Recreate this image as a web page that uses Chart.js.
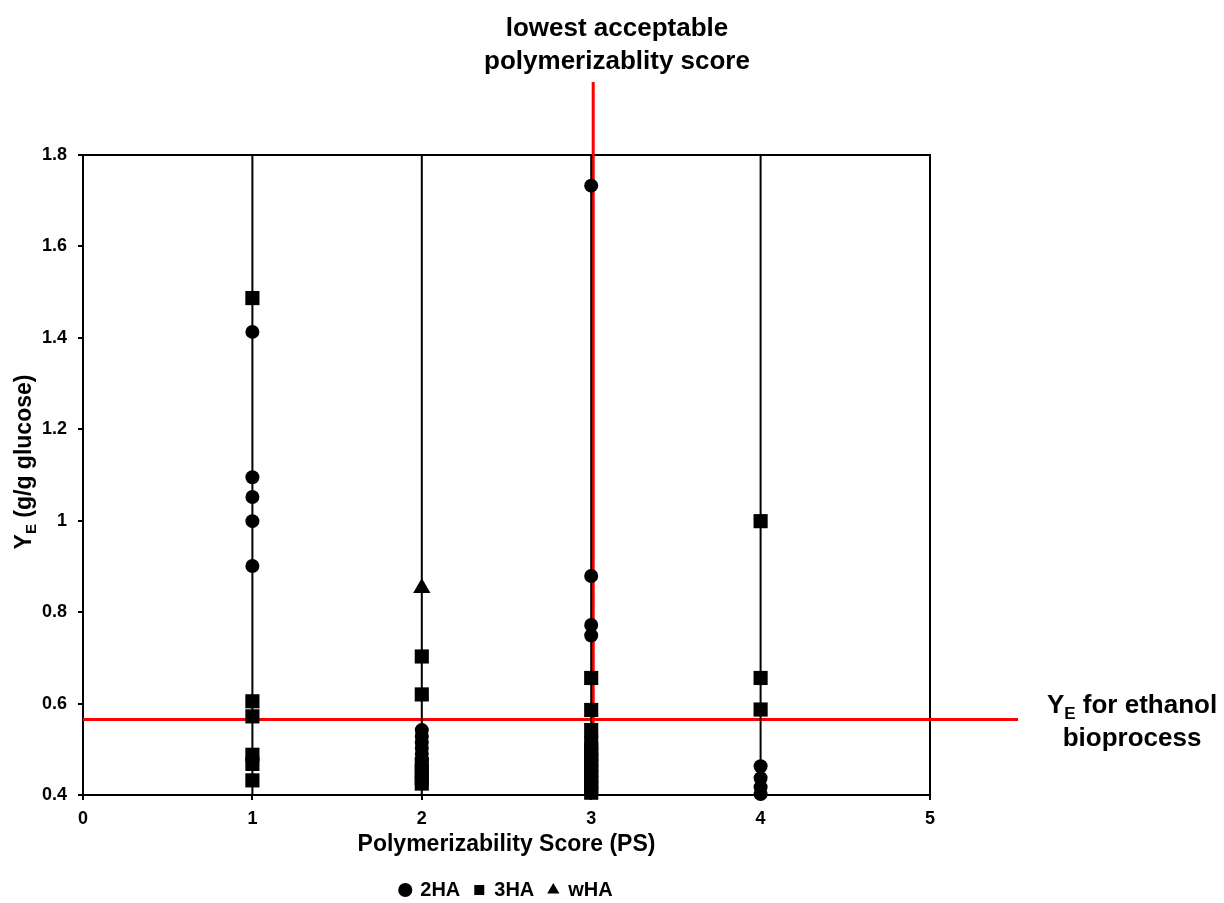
<!DOCTYPE html>
<html>
<head>
<meta charset="utf-8">
<script src="https://cdn.jsdelivr.net/npm/chart.js@4.4.1/dist/chart.umd.min.js"></script>
<style>
  html, body { margin: 0; padding: 0; background: #fff; }
  #wrap { width: 1224px; height: 903px; }
</style>
</head>
<body>
<div id="wrap"><canvas id="psChart" width="1224" height="903"></canvas></div>
<script>
// tick values
const xTicks = [0, 1, 2, 3, 4, 5];
const yTicks = [0.4, 0.6, 0.8, 1.0, 1.2, 1.4, 1.6, 1.8];

// 2HA (circles)
const ps2HA = [1, 1, 1, 1, 1, 2, 2, 2, 2, 2, 2, 3, 3, 3, 3, 4, 4, 4, 4];
const ye2HA = [1.413, 1.095, 1.052, 0.999, 0.901, 0.542, 0.528, 0.515, 0.503, 0.490, 0.477,
               1.733, 0.879, 0.772, 0.749, 0.463, 0.437, 0.417, 0.402];

// 3HA (squares)
const ps3HA = [1, 1, 1, 1, 1, 1, 2, 2, 2, 2, 2, 2, 3, 3, 3, 3, 3, 3, 3, 3, 3, 3, 3, 3, 3, 4, 4, 4];
const ye3HA = [1.487, 0.605, 0.572, 0.488, 0.468, 0.432,
               0.703, 0.620, 0.468, 0.452, 0.437, 0.425,
               0.656, 0.586, 0.542, 0.515, 0.500, 0.488, 0.476, 0.464, 0.452, 0.440, 0.428, 0.416, 0.405,
               0.999, 0.656, 0.587];

// wHA (triangles)
const psWHA = [2];
const yeWHA = [0.853];

// vertical guide lines at each score
const guideScores = [1, 2, 3, 4];

// reference values
const ethanolYE = 0.565;
const lowestPS = 3;

const FONT = "'Liberation Sans', Arial, sans-serif";
Chart.defaults.font.family = FONT;
Chart.defaults.font.weight = 'bold';
Chart.defaults.color = '#000';

function pts(xs, ys) {
  return xs.map((x, i) => ({ x: x, y: ys[i] }));
}

const yMin = yTicks[0], yMax = yTicks[yTicks.length - 1];
const guideData = [];
guideScores.forEach(s => {
  guideData.push({ x: s, y: yMin }, { x: s, y: yMax }, { x: s, y: null });
});

// red lines, box and free text
const refLines = {
  id: 'refLines',
  beforeDatasetsDraw(chart) {
    const { ctx, chartArea: a, scales: { x, y } } = chart;
    ctx.save();
    ctx.strokeStyle = '#000';
    ctx.lineWidth = 2;
    ctx.strokeRect(a.left, a.top, a.right - a.left, a.bottom - a.top);

    ctx.strokeStyle = '#ff0000';
    ctx.lineWidth = 3;
    const yy = y.getPixelForValue(ethanolYE);
    ctx.beginPath();
    ctx.moveTo(a.left, yy);
    ctx.lineTo(a.right + 88, yy);
    ctx.stroke();
    const xx = x.getPixelForValue(lowestPS) + 2;
    ctx.beginPath();
    ctx.moveTo(xx, 82);
    ctx.lineTo(xx, a.bottom);
    ctx.stroke();
    ctx.restore();
  },
  afterDraw(chart) {
    const { ctx } = chart;
    ctx.save();
    ctx.fillStyle = '#000';
    ctx.textBaseline = 'alphabetic';

    // top note
    ctx.font = 'bold 26px ' + FONT;
    ctx.textAlign = 'center';
    ctx.fillText('lowest acceptable', 617, 36);
    ctx.fillText('polymerizablity score', 617, 69);

    // right note with subscript
    ctx.textAlign = 'left';
    const big = 'bold 26px ' + FONT, small = 'bold 17px ' + FONT;
    ctx.font = big;
    const wY = ctx.measureText('Y').width;
    const wRest = ctx.measureText(' for ethanol').width;
    ctx.font = small;
    const wE = ctx.measureText('E').width;
    const sx = 1132 - (wY + wE + wRest) / 2;
    ctx.font = big;
    ctx.fillText('Y', sx, 713);
    ctx.font = small;
    ctx.fillText('E', sx + wY, 719);
    ctx.font = big;
    ctx.fillText(' for ethanol', sx + wY + wE, 713);
    ctx.textAlign = 'center';
    ctx.fillText('bioprocess', 1132, 746);

    // y axis title with subscript
    const tBig = 'bold 23px ' + FONT, tSmall = 'bold 15px ' + FONT;
    ctx.translate(31, 462);
    ctx.rotate(-Math.PI / 2);
    ctx.textAlign = 'left';
    ctx.font = tBig;
    const tY = ctx.measureText('Y').width;
    const tRest = ctx.measureText(' (g/g glucose)').width;
    ctx.font = tSmall;
    const tE = ctx.measureText('E').width;
    const tx = -(tY + tE + tRest) / 2;
    ctx.font = tBig;
    ctx.fillText('Y', tx, 0);
    ctx.font = tSmall;
    ctx.fillText('E', tx + tY, 5);
    ctx.font = tBig;
    ctx.fillText(' (g/g glucose)', tx + tY + tE, 0);
    ctx.restore();
  }
};

const ctx = document.getElementById('psChart').getContext('2d');
const psChart = new Chart(ctx, {
  type: 'scatter',
  data: {
    datasets: [
      {
        label: '2HA',
        data: pts(ps2HA, ye2HA),
        pointStyle: 'circle',
        pointRadius: 7,
        backgroundColor: '#000',
        borderColor: '#000',
        borderWidth: 0,
        clip: false,
        order: 0
      },
      {
        label: '3HA',
        data: pts(ps3HA, ye3HA),
        pointStyle: 'rect',
        pointRadius: 10,
        backgroundColor: '#000',
        borderColor: '#000',
        borderWidth: 0,
        clip: false,
        order: 0
      },
      {
        label: 'wHA',
        data: pts(psWHA, yeWHA),
        pointStyle: 'triangle',
        pointRadius: 10,
        backgroundColor: '#000',
        borderColor: '#000',
        borderWidth: 0,
        clip: false,
        order: 0
      },
      {
        label: 'guides',
        data: guideData,
        showLine: true,
        spanGaps: false,
        pointRadius: 0,
        borderColor: '#000',
        borderWidth: 2,
        order: 10
      }
    ]
  },
  options: {
    responsive: false,
    animation: false,
    events: [],
    layout: { padding: { left: 0, right: 294, top: 155, bottom: -7 } },
    scales: {
      x: {
        type: 'linear',
        min: xTicks[0],
        max: xTicks[xTicks.length - 1],
        afterBuildTicks: s => { s.ticks = xTicks.map(v => ({ value: v })); },
        afterFit: s => { s.height = 71; },
        grid: { drawOnChartArea: false, color: '#000', lineWidth: 2, tickLength: 5 },
        border: { color: '#000', width: 2 },
        ticks: { font: { size: 18, weight: 'bold' }, color: '#000', padding: 8 },
        title: {
          display: true,
          text: 'Polymerizability Score (PS)',
          font: { size: 23, weight: 'bold' },
          color: '#000',
          padding: { top: 0, bottom: 8 }
        }
      },
      y: {
        type: 'linear',
        min: yMin,
        max: yMax,
        afterBuildTicks: s => { s.ticks = yTicks.map(v => ({ value: v })); },
        afterFit: s => { s.width = 83; },
        grid: { drawOnChartArea: false, color: '#000', lineWidth: 2, tickLength: 5 },
        border: { color: '#000', width: 2 },
        ticks: {
          font: { size: 18, weight: 'bold' },
          color: '#000',
          padding: 11,
          callback: v => String(Math.round(v * 10) / 10)
        }
      }
    },
    plugins: {
      legend: {
        position: 'bottom',
        fullSize: false,
        labels: {
          usePointStyle: true,
          boxWidth: 10,
          boxHeight: 10,
          padding: 14,
          color: '#000',
          font: { size: 20, weight: 'bold' },
          filter: item => item.text !== 'guides'
        }
      },
      tooltip: { enabled: false }
    }
  },
  plugins: [refLines]
});
</script>
</body>
</html>
